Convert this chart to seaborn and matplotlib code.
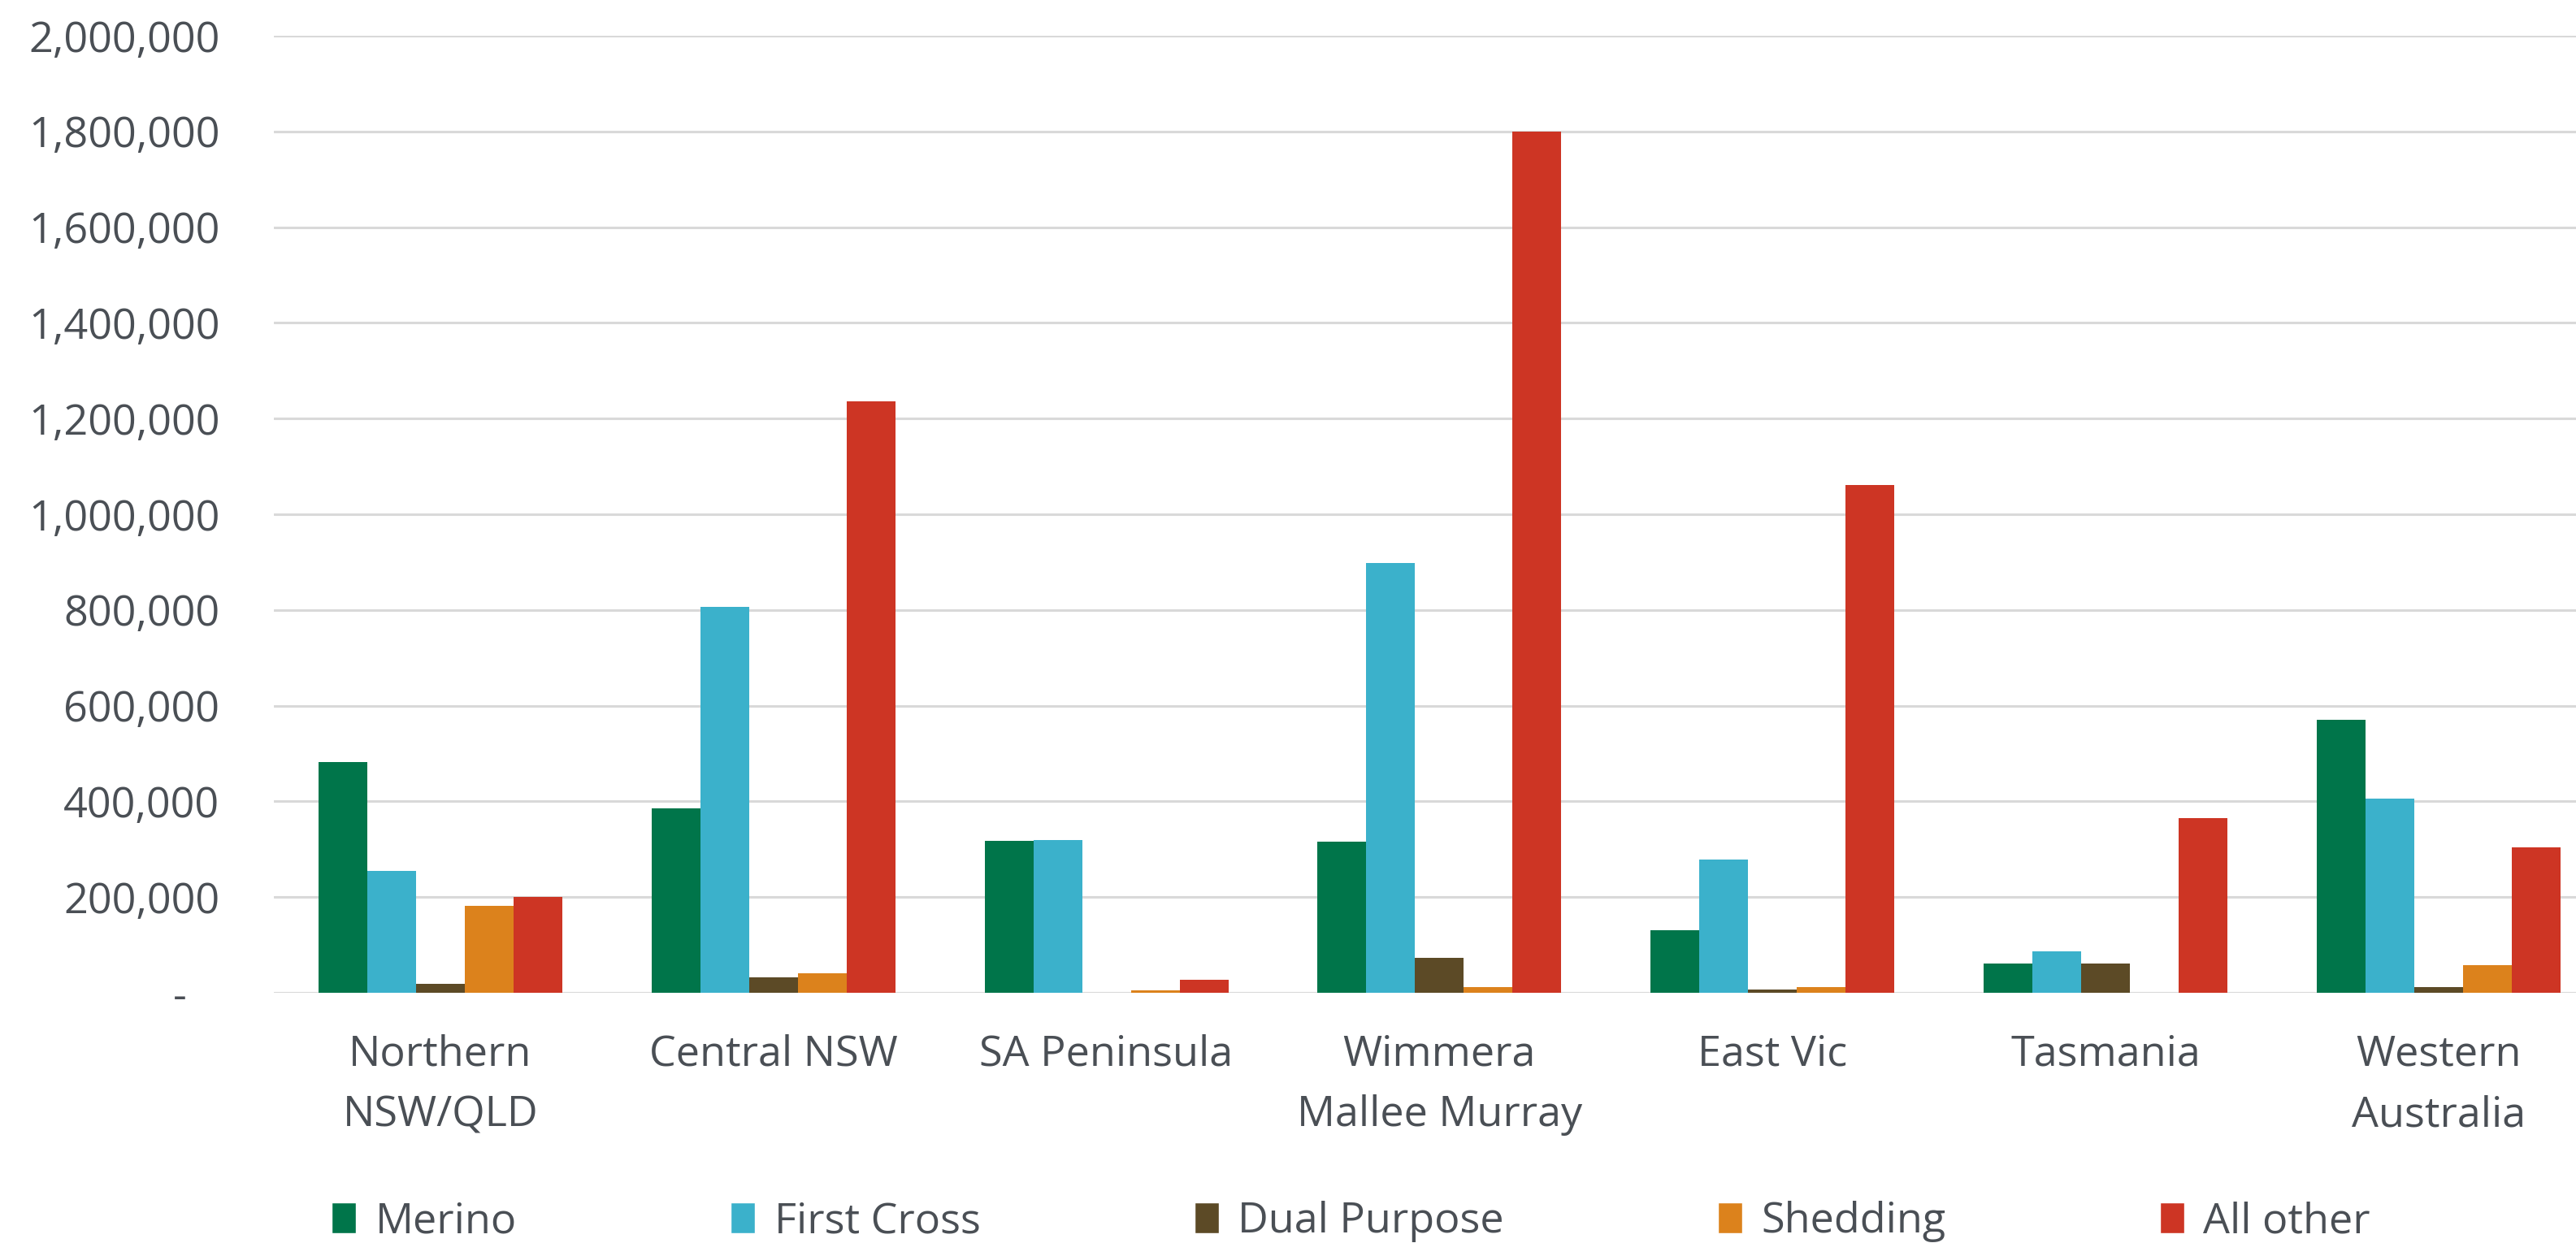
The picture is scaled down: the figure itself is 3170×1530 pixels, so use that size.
import numpy as np
import pandas as pd
import seaborn as sns
import matplotlib.pyplot as plt
from matplotlib.patches import Patch
from matplotlib.ticker import FuncFormatter

regions = ['Northern\nNSW/QLD', 'Central NSW', 'SA Peninsula', 'Wimmera\nMallee Murray',
           'East Vic', 'Tasmania', 'Western\nAustralia']
breeds = ['Merino', 'First Cross', 'Dual Purpose', 'Shedding', 'All other']

merino = [482000, 385000, 318000, 315000, 130000, 60500, 571000]
first_cross = [254000, 806000, 320000, 898000, 278000, 86000, 405000]
dual_purpose = [19500, 32000, 0, 72500, 7500, 60500, 12000]
shedding = [181000, 41000, 4500, 12500, 12000, 0, 57500]
all_other = [200000, 1236000, 28000, 1800000, 1062000, 364500, 303500]

colours = ['#00754A', '#3BB1CB', '#5C4A26', '#DC821C', '#CD3524']

df = pd.DataFrame({
    'region': regions * 5,
    'breed': np.repeat(breeds, len(regions)),
    'head': merino + first_cross + dual_purpose + shedding + all_other,
})

sns.set_theme(style='white')
plt.rcParams['font.family'] = ['Open Sans', 'DejaVu Sans']
text_col = '#4A4F55'
grid_col = '#D9D9D9'

fig, ax = plt.subplots(figsize=(31.7, 15.3), dpi=100)
fig.subplots_adjust(left=0.1063, right=1.0113, top=0.9712, bottom=0.2013)

sns.barplot(data=df, x='region', y='head', hue='breed', order=regions, hue_order=breeds,
            palette=colours, width=0.732, gap=0, linewidth=0, saturation=1,
            legend=False, ax=ax)

ax.set_ylim(0, 2000000)
ax.set_xlim(-0.5, 6.5)
ax.set_yticks(np.arange(0, 2000001, 200000))
ax.yaxis.set_major_formatter(FuncFormatter(lambda v, p: '-   ' if v == 0 else f'{int(v):,}'))
ax.set_xlabel('')
ax.set_ylabel('')
ax.grid(axis='y', color=grid_col, linewidth=2.2)
ax.set_axisbelow(True)
for s in ax.spines.values():
    s.set_visible(False)
ax.tick_params(axis='y', length=0, pad=48, labelsize=37.5, labelcolor=text_col)
ax.tick_params(axis='x', length=0, pad=36, labelsize=37.5, labelcolor=text_col)
for lbl in ax.get_xticklabels():
    lbl.set_linespacing(1.62)

handles = [Patch(facecolor=c, label=b) for c, b in zip(colours, breeds)]
fig.legend(handles=handles, loc='center', bbox_to_anchor=(0.5245, 0.017), ncol=5,
           frameon=False, fontsize=37.5, labelcolor=text_col, handlelength=0.58,
           handleheight=0.75, handletextpad=0.45, columnspacing=5.05)

fig.savefig('out.png', dpi=100)
